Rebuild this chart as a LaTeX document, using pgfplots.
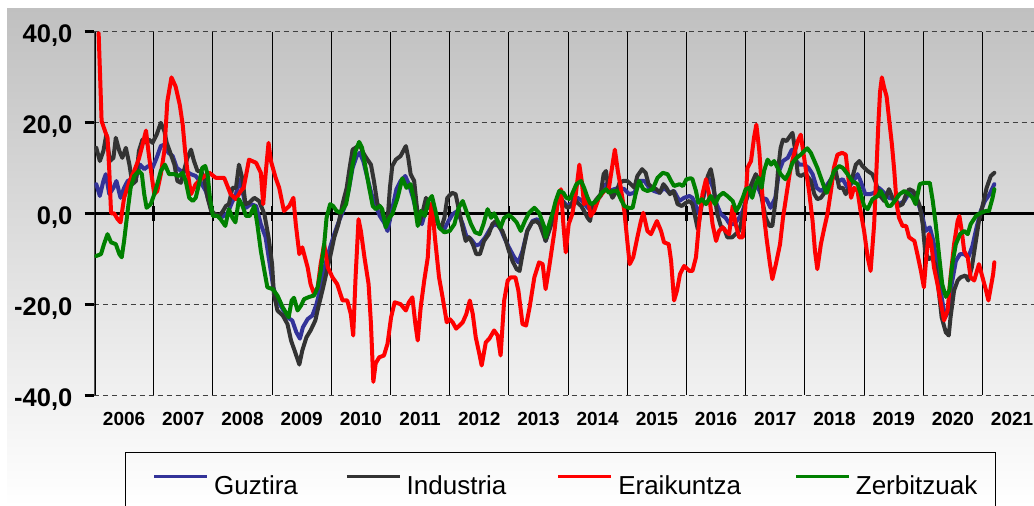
\documentclass[border=0pt]{standalone}
\usepackage{fontspec}
\setmainfont{Liberation Sans}
\usepackage{pgfplots}
\pgfplotsset{compat=1.18}
\definecolor{cblue}{RGB}{51,51,153}
\definecolor{cgray}{RGB}{51,51,51}
\definecolor{cred}{RGB}{255,0,0}
\definecolor{cgreen}{RGB}{0,128,0}
\definecolor{bgtop}{RGB}{192,192,192}
\definecolor{gridc}{RGB}{64,64,64}
\begin{document}
\begin{tikzpicture}
\useasboundingbox (0,0) rectangle (1034pt,-506pt);
\shade[top color=bgtop, bottom color=white] (7pt,-8pt) rectangle (1034pt,-506pt);
\begin{axis}[
  at={(94.5pt,-395pt)}, anchor=south west,
  scale only axis, width=939.5pt, height=363.5pt,
  xmin=2006, xmax=2021.87, ymin=-40, ymax=40,
  axis line style={draw=none},
  tick pos=left, tick align=outside,
  major tick length=10pt,
  xtick={2006.5,2007.5,...,2021.5},
  xticklabels={2006,2007,2008,2009,2010,2011,2012,2013,2014,2015,2016,2017,2018,2019,2020,2021},
  minor xtick={2007,2008,...,2021},
  major x tick style={draw=none}, minor x tick style={draw=none},
  ytick={-40,-20,0,20,40},
  yticklabels={{-40,0},{-20,0},{0,0},{20,0},{40,0}},
  ytick style={black, line width=3pt},
  xminorgrids, ymajorgrids,
  major y grid style={gridc, line width=1pt, dash pattern=on 5pt off 4pt},
  minor x grid style={black, line width=0.9pt},
  yticklabel style={font=\fontsize{25.5}{30}\selectfont\bfseries, inner sep=0pt, xshift=-12pt, yshift=-4.5pt},
  xticklabel style={font=\fontsize{19}{23}\selectfont\bfseries, inner sep=0pt, yshift=-7pt},
  legend columns=4,
  legend image code/.code={\draw[#1, line width=3.6pt, line cap=butt] (0pt,10pt) -- (53pt,10pt);},
  legend style={at={(0.03246,-0.1568)}, anchor=north west, draw=black, line width=1pt, fill=none,
    font=\fontsize{26}{30}\selectfont, inner xsep=27pt, inner ysep=22pt,
    nodes={inner sep=0pt},
    /tikz/every even column/.append style={column sep=50pt},
    /tikz/every odd column/.append style={column sep=5pt}},
  serie/.style={line width=4pt, line join=round, line cap=round},
]
\addplot[black, line width=3.5pt, forget plot] coordinates {(2006,0) (2021.87,0)};
\pgfplotsinvokeforeach{2007,2008,...,2021}{\draw[black, line width=2.5pt] (axis cs:#1,0) ++(0pt,-7.5pt) -- ++(0pt,15pt);}
\draw[black, line width=3.5pt] (rel axis cs:0,0) -- (rel axis cs:0,1);

% Guztira
\addplot[cblue, serie] coordinates {
(2006.03,6.4) (2006.09,3.8) (2006.15,7.1) (2006.19,8.6) (2006.25,4.2) (2006.32,5.6) (2006.37,7.1) (2006.44,3.4) (2006.50,5.6) (2006.56,7.1) (2006.63,7.5) (2006.70,7.8) (2006.77,10.7) (2006.84,9.7) (2006.91,10.4) (2006.98,10) (2007.05,12.2) (2007.12,14.8) (2007.18,15.1) (2007.25,13.3) (2007.32,12.6) (2007.39,10) (2007.46,9.3) (2007.54,9.3) (2007.63,8.6) (2007.71,8.2) (2007.80,6.7) (2007.88,4.9) (2007.95,2) (2008.0,0) (2008.08,-0.6) (2008.16,-0.8) (2008.25,0.1) (2008.32,2.3) (2008.39,4.2) (2008.44,7.5) (2008.50,4.9)
(2008.56,1.2) (2008.64,2) (2008.73,1.6) (2008.81,-2.4) (2008.89,-5.3) (2008.96,-11.2) (2009.02,-16.3) (2009.09,-19.2) (2009.18,-21.1) (2009.26,-22.9) (2009.34,-23.6) (2009.41,-26.2) (2009.47,-27.6) (2009.52,-25.1) (2009.60,-23.3) (2009.68,-22.5) (2009.75,-20) (2009.82,-16.3) (2009.90,-11.2) (2009.98,-7.5) (2010.05,-4.6) (2010.13,-1.7) (2010.22,1.2) (2010.29,4.9) (2010.36,10) (2010.43,12.6) (2010.48,13.3) (2010.54,11.5) (2010.61,7.8) (2010.68,4.2) (2010.75,1.6) (2010.82,-0.6) (2010.89,-2) (2010.95,-3.9) (2011.01,-0.2)
(2011.10,5.3) (2011.17,7.1) (2011.25,8.2) (2011.31,6.4) (2011.38,3.4) (2011.46,-1) (2011.53,-2.4) (2011.60,0.9) (2011.66,1.6) (2011.74,0.5) (2011.82,-2.8) (2011.91,-3.5) (2011.98,-1.7) (2012.05,-0.2) (2012.13,0.5) (2012.22,-2.4) (2012.28,-5) (2012.36,-5.7) (2012.44,-7.1) (2012.51,-6.8) (2012.60,-5.3) (2012.68,-3.5) (2012.75,-2.4) (2012.84,-2.8) (2012.92,-5.3) (2013.0,-7.5) (2013.09,-9.7) (2013.16,-10.8) (2013.23,-8.3) (2013.31,-3.9) (2013.40,-1.7) (2013.48,-1.3) (2013.57,-3.1)
(2013.62,-6.1) (2013.69,-3.1) (2013.77,0.1) (2013.84,2.7) (2013.91,2.7) (2013.99,1.6) (2014.07,2.3) (2014.16,3.4) (2014.24,2.7) (2014.33,1.2) (2014.40,0.5) (2014.47,2.7) (2014.55,3.8) (2014.63,6.4) (2014.69,4.9) (2014.78,5.3) (2014.86,5.6) (2014.95,5.3) (2015.03,4.2) (2015.12,4.5) (2015.20,7.1) (2015.29,7.1) (2015.37,5.6) (2015.45,4.9) (2015.54,4.5) (2015.62,5.6) (2015.71,4.5) (2015.79,4.9) (2015.88,2.7) (2015.96,3.4) (2016.05,3.8)
(2016.10,3.4) (2016.16,1.6) (2016.21,-0.2) (2016.27,2.7) (2016.34,6.4) (2016.39,7.5) (2016.45,5.6) (2016.51,2) (2016.58,-0.2) (2016.66,-1) (2016.73,-2.4) (2016.81,-2.4) (2016.89,-1) (2016.95,0.5) (2017.0,2.7) (2017.07,4.9) (2017.14,6.4) (2017.22,5.3) (2017.28,3.4) (2017.35,3.1) (2017.42,1.2) (2017.50,3.4) (2017.565,9.3) (2017.63,11.5) (2017.71,12.2) (2017.78,14) (2017.85,11.5) (2017.91,10.7) (2017.99,10.7) (2018.06,10) (2018.13,8.6) (2018.20,5.6) (2018.27,4.9) (2018.34,5.6) (2018.42,7.1) (2018.49,8.2) (2018.58,7.1)
(2018.64,7.5) (2018.72,5.6) (2018.80,6.7) (2018.89,8.6) (2018.94,7.1) (2019.02,4.2) (2019.10,4.2) (2019.17,4.5) (2019.25,5.6) (2019.34,4.5) (2019.42,3.4) (2019.51,3.1) (2019.59,2) (2019.68,2.7) (2019.76,4.5) (2019.85,4.2) (2019.92,2) (2019.99,-1) (2020.04,-3.9) (2020.11,-3.1) (2020.17,-6.1) (2020.24,-11.9) (2020.31,-18.5) (2020.37,-22.9) (2020.43,-21.4) (2020.48,-15.6) (2020.55,-10.5) (2020.62,-9) (2020.69,-9) (2020.76,-9.7) (2020.83,-7.2) (2020.90,-3.1) (2020.97,0.5) (2021.04,2.7) (2021.12,4.2) (2021.20,6.4)
};
\addlegendentry{\makebox[81pt][l]{Guztira}}

% Industria
\addplot[cgray, serie] coordinates {
(2006.03,14.4) (2006.09,11.5) (2006.15,13.7) (2006.20,17.3) (2006.26,11.5) (2006.32,12.2) (2006.36,16.6) (2006.42,13.7) (2006.47,12.2) (2006.53,14.4) (2006.59,10.7) (2006.64,6.4) (2006.70,7.1) (2006.75,13.7) (2006.81,16.2) (2006.87,15.5) (2006.92,16.2) (2006.98,15.5) (2007.05,17.3) (2007.12,19.9) (2007.18,18.1) (2007.22,15.5) (2007.27,13.7) (2007.35,10.7) (2007.40,7.1) (2007.46,6.7) (2007.51,9.3) (2007.57,12.2) (2007.63,14) (2007.68,11.5) (2007.74,9.3) (2007.80,9.3) (2007.85,7.8) (2007.91,3.4) (2007.97,0.5) (2008.04,-0.2) (2008.11,-0.6) (2008.17,0.5) (2008.22,1.6) (2008.27,2) (2008.33,5.6) (2008.39,5.6) (2008.44,10.7) (2008.50,7.5)
(2008.55,2) (2008.61,2.3) (2008.70,3.4) (2008.78,2.7) (2008.87,-0.2) (2008.94,-5.3) (2009.0,-11.2) (2009.03,-17.8) (2009.09,-21.4) (2009.18,-22.5) (2009.26,-24.4) (2009.32,-28) (2009.39,-30.6) (2009.46,-33.3) (2009.51,-30.2) (2009.58,-27.3) (2009.65,-25.8) (2009.73,-23.6) (2009.78,-20.7) (2009.85,-17) (2009.94,-11.9) (2009.99,-9) (2010.05,-5.3) (2010.12,-2.4) (2010.19,2) (2010.26,5.6) (2010.31,10) (2010.36,14) (2010.43,14.6) (2010.48,15.1) (2010.54,13.3) (2010.59,12.2) (2010.67,10.7) (2010.72,7.1) (2010.78,2) (2010.84,1.2) (2010.89,-1) (2010.95,-1.7) (2010.99,5.6) (2011.03,10.4)
(2011.09,11.8) (2011.17,12.6) (2011.26,14.8) (2011.30,12.2) (2011.34,8.6) (2011.40,7.1) (2011.44,2) (2011.48,-2.4) (2011.54,0.1) (2011.60,3.4) (2011.65,1.2) (2011.72,1.6) (2011.78,-1.7) (2011.85,-3.5) (2011.91,-1) (2011.96,3.4) (2012.04,4.5) (2012.10,4.2) (2012.16,0.5) (2012.23,-3.9) (2012.27,-6.1) (2012.33,-5.3) (2012.39,-6.8) (2012.45,-9) (2012.51,-9) (2012.58,-6.1) (2012.66,-4.6) (2012.72,-2.4) (2012.78,-1.7) (2012.84,-3.1) (2012.89,-3.9) (2012.95,-6.1) (2013.0,-8.3) (2013.06,-10.5) (2013.13,-12.3) (2013.18,-12.7) (2013.24,-8.3) (2013.31,-3.9) (2013.39,-2) (2013.46,-1.7) (2013.52,-2.4) (2013.60,-5.3)
(2013.62,-6.1) (2013.68,-3.9) (2013.75,-1) (2013.80,2.7) (2013.88,3.4) (2013.93,2) (2013.99,1.2) (2014.05,1.6) (2014.10,3.4) (2014.16,2.3) (2014.22,1.6) (2014.27,0.5) (2014.33,-1) (2014.37,-1.7) (2014.42,2) (2014.48,3.1) (2014.55,4.2) (2014.60,8.6) (2014.64,9.3) (2014.68,5.6) (2014.75,3.4) (2014.82,4.9) (2014.87,6.7) (2014.93,7.1) (2015.0,7.1) (2015.06,6.4) (2015.12,5.6) (2015.17,8.2) (2015.25,9.7) (2015.31,8.9) (2015.36,6.4) (2015.43,5.6) (2015.49,5.3) (2015.55,4.5) (2015.61,6.4) (2015.66,5.6) (2015.72,4.2) (2015.78,4.9) (2015.85,2) (2015.92,1.6) (2015.99,2.3) (2016.05,2.7)
(2016.10,2) (2016.15,-1) (2016.19,-3.5) (2016.24,0.5) (2016.30,4.9) (2016.36,8.2) (2016.41,9.7) (2016.45,7.1) (2016.48,3.4) (2016.52,-0.2) (2016.58,-2.8) (2016.64,-3.5) (2016.69,-5.3) (2016.77,-5.3) (2016.83,-4.6) (2016.89,-3.9) (2016.93,-1.7) (2016.99,2) (2017.05,4.9) (2017.12,7.1) (2017.17,8.6) (2017.23,7.1) (2017.28,2.7) (2017.34,-1) (2017.40,-2.8) (2017.45,-2.8) (2017.51,3.4) (2017.55,10) (2017.59,14.4) (2017.63,16.2) (2017.69,15.9) (2017.75,17) (2017.79,17.7) (2017.83,14.4) (2017.88,8.6) (2017.93,8.2) (2017.99,8.6) (2018.04,8.2) (2018.10,7.1) (2018.16,4.2) (2018.21,3.1) (2018.27,3.4) (2018.33,4.5) (2018.38,5.6) (2018.45,7.8) (2018.52,9.3) (2018.58,5.6)
(2018.64,5.6) (2018.69,4.2) (2018.75,5.6) (2018.80,7.8) (2018.86,10.7) (2018.92,11.5) (2018.97,10.4) (2019.06,9.3) (2019.14,8.6) (2019.20,6.7) (2019.25,4.2) (2019.34,2.7) (2019.42,5.3) (2019.48,3.4) (2019.54,2.7) (2019.59,1.6) (2019.65,2) (2019.71,4.2) (2019.76,5.3) (2019.83,4.9) (2019.89,3.4) (2019.94,1.6) (2019.99,-2.4) (2020.03,-8.3) (2020.09,-10.1) (2020.14,-9.7) (2020.20,-11.2) (2020.26,-17) (2020.31,-22.9) (2020.38,-26.2) (2020.43,-26.9) (2020.46,-22.9) (2020.52,-17) (2020.58,-14.8) (2020.63,-14.1) (2020.71,-13.7) (2020.76,-14.8) (2020.82,-11.9) (2020.88,-6.8) (2020.94,-1.7) (2021.0,1.6) (2021.07,5.6) (2021.14,8.2) (2021.20,8.9)
};
\addlegendentry{\makebox[100pt][l]{Industria}}

% Eraikuntza
\addplot[cred, serie] coordinates {
(2006.07,39.6) (2006.09,32) (2006.12,20.3) (2006.18,18) (2006.22,16.6) (2006.25,9.3) (2006.28,0) (2006.33,0) (2006.39,-1.3) (2006.44,-2) (2006.50,3.4) (2006.59,7) (2006.67,9.3) (2006.75,12) (2006.81,15) (2006.87,18.2) (2006.91,13.7) (2006.97,7.8) (2007.01,4.2) (2007.06,4.9) (2007.12,8.6) (2007.18,13.7) (2007.23,24.6) (2007.30,29.9) (2007.37,27.9) (2007.44,23.9) (2007.49,19.5) (2007.53,13.7) (2007.57,9.3) (2007.63,4.2) (2007.71,6.4) (2007.82,7.8) (2007.94,8.9) (2008.05,7.8) (2008.19,7.8) (2008.30,4.2) (2008.39,3.1) (2008.47,4.9)
(2008.52,5.6) (2008.61,11.8) (2008.73,11.1) (2008.81,8.9) (2008.85,2) (2008.89,8.6) (2008.94,15.5) (2008.98,11.5) (2009.06,7.8) (2009.12,5.6) (2009.20,0.5) (2009.29,1.6) (2009.36,3.4) (2009.40,-2.4) (2009.46,-9) (2009.51,-7.5) (2009.60,-11.9) (2009.65,-15.6) (2009.71,-17.8) (2009.77,-16.3) (2009.82,-11.2) (2009.88,-6.8) (2009.94,-11.9) (2010.02,-14.1) (2010.10,-15.6) (2010.19,-19.2) (2010.27,-19.2) (2010.33,-22.2) (2010.37,-26.9) (2010.41,-14.1) (2010.46,-1.3) (2010.50,-3.9) (2010.56,-9.7) (2010.63,-15.6) (2010.67,-24.4) (2010.71,-37.1) (2010.75,-33) (2010.81,-31.7) (2010.89,-31.3) (2010.95,-28.7) (2011.01,-22.9) (2011.07,-19.6)
(2011.17,-20) (2011.26,-21.4) (2011.31,-19.6) (2011.37,-18.5) (2011.42,-24.4) (2011.46,-28) (2011.51,-20.7) (2011.57,-14.8) (2011.63,-9.7) (2011.66,-2.4) (2011.70,2.3) (2011.75,-5.3) (2011.82,-14.1) (2011.88,-18.5) (2011.95,-24) (2012.00,-23.3) (2012.05,-24) (2012.11,-25.4) (2012.22,-24) (2012.28,-22.2) (2012.34,-19.2) (2012.39,-22.2) (2012.44,-27.3) (2012.50,-30.9) (2012.54,-33.5) (2012.61,-28.4) (2012.67,-27.6) (2012.75,-25.8) (2012.81,-26.9) (2012.86,-31.3) (2012.92,-19.2) (2012.98,-14.8) (2013.03,-14.1) (2013.11,-14.1) (2013.16,-17) (2013.23,-24.4) (2013.29,-24.7) (2013.35,-20.7) (2013.43,-14.1) (2013.51,-10.8) (2013.57,-11.2)
(2013.62,-16.7) (2013.68,-11.9) (2013.77,-3.9) (2013.82,2) (2013.88,5.3) (2013.92,-2.4) (2013.96,-8.6) (2014.01,-2.4) (2014.07,-0.2) (2014.13,4.2) (2014.19,10.7) (2014.23,7.1) (2014.27,2) (2014.33,3.4) (2014.38,-0.6) (2014.44,0.5) (2014.52,3.4) (2014.61,4.9) (2014.69,5.6) (2014.75,10.7) (2014.79,14) (2014.84,9.3) (2014.89,5.6) (2014.95,0.5) (2015.00,-6.1) (2015.04,-11.2) (2015.10,-9.7) (2015.17,-5.3) (2015.23,-1.7) (2015.27,0.1) (2015.34,-3.9) (2015.40,-4.6) (2015.50,-1.7) (2015.57,-3.9) (2015.62,-6.4) (2015.70,-6.8) (2015.74,-10.5) (2015.79,-19.2) (2015.84,-17) (2015.89,-13.4) (2015.96,-11.6) (2016.05,-12.7)
(2016.10,-12.7) (2016.16,-9.7) (2016.21,-2.4) (2016.27,4.2) (2016.33,7.5) (2016.38,4.2) (2016.44,-2.4) (2016.50,-6.1) (2016.55,-3.9) (2016.61,-3.1) (2016.66,-3.9) (2016.72,-4.6) (2016.78,1.6) (2016.83,-2.4) (2016.89,-5.3) (2016.95,-5.3) (2016.99,0.5) (2017.03,10) (2017.09,11.5) (2017.14,16.6) (2017.18,19.5) (2017.23,13.7) (2017.26,7.8) (2017.30,0.5) (2017.35,-5.3) (2017.41,-11.2) (2017.45,-14.5) (2017.51,-11.2) (2017.58,-6.8) (2017.63,-1) (2017.69,4.2) (2017.75,9.3) (2017.80,12.2) (2017.88,15.9) (2017.93,17.3) (2017.97,13.7) (2018.02,9.3) (2018.07,4.9) (2018.13,-1.7) (2018.17,-8.3) (2018.21,-12.3) (2018.27,-6.8) (2018.33,-3.1) (2018.38,-0.2) (2018.44,4.9) (2018.49,10) (2018.55,12.9) (2018.63,13.3)
(2018.69,12.9) (2018.74,7.1) (2018.78,3.4) (2018.83,5.6) (2018.89,4.9) (2018.94,0.5) (2019.0,-3.9) (2019.06,-9.7) (2019.11,-12.7) (2019.17,-2.4) (2019.21,10) (2019.24,19.5) (2019.27,26.8) (2019.30,29.9) (2019.34,27.6) (2019.38,25.7) (2019.42,21) (2019.47,15.1) (2019.51,9.3) (2019.55,2) (2019.59,-1) (2019.65,-2.8) (2019.71,-2.8) (2019.76,-5.3) (2019.85,-6.1) (2019.90,-9) (2019.96,-12.7) (2020.01,-16.3) (2020.05,-9.7) (2020.09,-4.6) (2020.13,-6.1) (2020.18,-11.9) (2020.24,-15.6) (2020.30,-20) (2020.35,-23.6) (2020.41,-21.4) (2020.46,-14.1) (2020.52,-6.8) (2020.58,-1.7) (2020.61,-0.6) (2020.65,-3.9) (2020.69,-8.3) (2020.75,-9.7) (2020.80,-14.1) (2020.86,-14.8) (2020.94,-11.2) (2021.0,-14.1) (2021.06,-17) (2021.10,-19.2) (2021.14,-16.3) (2021.18,-13.4) (2021.20,-10.8)
};
\addlegendentry{\makebox[126pt][l]{Eraikuntza}}

% Zerbitzuak
\addplot[cgreen, serie] coordinates {
(2006.03,-9.4) (2006.11,-9) (2006.16,-6.8) (2006.22,-4.6) (2006.28,-6.4) (2006.36,-6.8) (2006.42,-9) (2006.46,-9.7) (2006.50,-6.1) (2006.56,0.5) (2006.61,5.6) (2006.67,8.2) (2006.75,9.3) (2006.80,8.6) (2006.84,4.2) (2006.88,1.2) (2006.95,2) (2007.01,4.2) (2007.06,6.4) (2007.12,9.3) (2007.19,10.7) (2007.26,8.6) (2007.35,8.6) (2007.42,8.2) (2007.49,8.9) (2007.54,7.1) (2007.60,3.4) (2007.66,2.7) (2007.71,3.4) (2007.77,6.7) (2007.82,10) (2007.87,10.4) (2007.91,8.6) (2007.95,3.4) (2008.0,-0.6) (2008.08,-0.6) (2008.13,-1.3) (2008.21,-2.8) (2008.27,0.9) (2008.33,-1) (2008.38,-2) (2008.44,3.1) (2008.50,1.6)
(2008.56,-0.6) (2008.62,-0.6) (2008.70,1.6) (2008.75,-2.4) (2008.81,-8.3) (2008.87,-12.7) (2008.92,-16.3) (2009.01,-16.7) (2009.09,-18.1) (2009.18,-20.7) (2009.28,-22.9) (2009.33,-19.2) (2009.37,-18.6) (2009.43,-21.4) (2009.49,-20.3) (2009.54,-18.9) (2009.63,-18.4) (2009.71,-18.1) (2009.77,-16.3) (2009.82,-12.7) (2009.88,-6.8) (2009.92,-1) (2009.98,2) (2010.03,1.6) (2010.09,0.5) (2010.16,0.1) (2010.25,2) (2010.30,5.6) (2010.36,10.7) (2010.41,13.7) (2010.47,15.7) (2010.52,14.4) (2010.57,10.7) (2010.64,5.6) (2010.70,1.6) (2010.75,0.9) (2010.82,1.6) (2010.86,0.9) (2010.92,-3.1) (2010.98,-1) (2011.03,-0.2)
(2011.12,3.4) (2011.20,7.7) (2011.27,5.6) (2011.34,6.4) (2011.40,2.7) (2011.46,-2.8) (2011.51,0.5) (2011.58,-0.6) (2011.64,2.7) (2011.70,3.8) (2011.76,0.5) (2011.82,-3.1) (2011.91,-4.2) (2012.0,-3.9) (2012.08,-2.4) (2012.15,1.2) (2012.22,2.7) (2012.28,0.5) (2012.36,-2.4) (2012.43,-4.2) (2012.51,-4.6) (2012.57,-2.4) (2012.64,0.9) (2012.70,-1) (2012.75,0) (2012.81,-1.7) (2012.86,-3.1) (2012.92,-1) (2013.0,-0.4) (2013.06,-1) (2013.13,-2) (2013.20,-3.9) (2013.27,-1.7) (2013.34,0.1) (2013.43,1.2) (2013.51,0.1) (2013.60,-3.1)
(2013.62,-5.3) (2013.68,-2.4) (2013.74,0.1) (2013.79,2.7) (2013.85,4.9) (2013.92,4.5) (2013.97,3.4) (2014.03,3.1) (2014.09,4.9) (2014.14,6.4) (2014.22,7.1) (2014.27,5.6) (2014.33,3.4) (2014.38,2) (2014.44,2.3) (2014.50,3.1) (2014.57,4.5) (2014.64,5.3) (2014.69,4.5) (2014.76,4.9) (2014.83,4.9) (2014.89,3.1) (2014.95,1.6) (2015.02,1.2) (2015.09,1.2) (2015.14,4.2) (2015.20,7.1) (2015.27,5.3) (2015.34,4.9) (2015.43,5.3) (2015.51,7.8) (2015.60,8.9) (2015.68,8.6) (2015.74,7.1) (2015.79,6) (2015.88,6.4) (2015.94,6) (2016.0,7.5) (2016.07,7.7)
(2016.10,7.5) (2016.16,4.9) (2016.20,2.3) (2016.26,3.1) (2016.33,2) (2016.41,3.8) (2016.48,2) (2016.55,3.8) (2016.62,4.5) (2016.69,3.8) (2016.78,2.7) (2016.84,0.5) (2016.89,1.6) (2016.95,3.4) (2017.0,5.3) (2017.06,5.6) (2017.11,3.4) (2017.17,6.4) (2017.22,7.8) (2017.27,5.6) (2017.31,9.3) (2017.37,11.8) (2017.43,10.7) (2017.48,11.5) (2017.54,10) (2017.59,8.6) (2017.67,7.5) (2017.73,8.9) (2017.79,11.1) (2017.86,12.2) (2017.93,12.9) (2017.99,13.7) (2018.04,14.3) (2018.10,13.3) (2018.16,11.5) (2018.21,10) (2018.27,7.8) (2018.33,5.6) (2018.37,4.5) (2018.42,6.4) (2018.49,9.3) (2018.58,10.4)
(2018.64,10) (2018.72,8.6) (2018.80,7.1) (2018.89,6.4) (2018.94,4.5) (2019.0,1.6) (2019.06,0.9) (2019.14,3.1) (2019.23,3.8) (2019.28,4.9) (2019.34,3.4) (2019.40,1.6) (2019.45,1.6) (2019.54,3.1) (2019.60,4.2) (2019.68,4.9) (2019.76,4.2) (2019.82,3.4) (2019.87,2) (2019.94,6.4) (2020.01,6.7) (2020.11,6.7) (2020.16,2.7) (2020.21,-2.4) (2020.27,-9.7) (2020.32,-15.6) (2020.38,-18.4) (2020.44,-17) (2020.49,-11.2) (2020.55,-6.8) (2020.62,-4.6) (2020.69,-3.9) (2020.75,-4.6) (2020.80,-2.4) (2020.89,-0.6) (2020.97,0.1) (2021.06,0.5) (2021.11,0.5) (2021.17,3.4) (2021.20,5.3)
};
\addlegendentry{\makebox[113pt][l]{Zerbitzuak}}
\end{axis}
\end{tikzpicture}
\end{document}
